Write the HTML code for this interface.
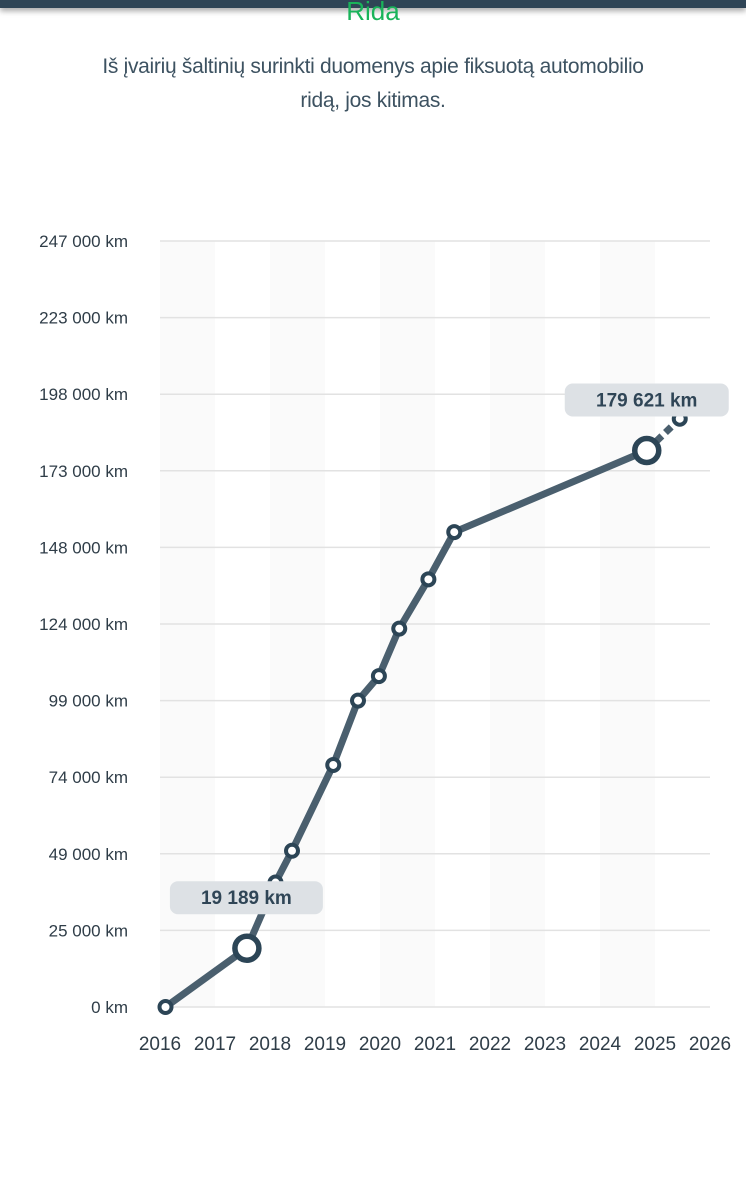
<!DOCTYPE html>
<html><head><meta charset="utf-8">
<style>
body{margin:0;width:746px;height:1200px;background:#fff;overflow:hidden;font-family:"Liberation Sans",sans-serif;position:relative}
#topbar{position:absolute;left:0;top:0;width:746px;height:8px;background:#2f4556;box-shadow:0 3px 6px rgba(0,0,0,.35)}
#title{position:absolute;top:-4px;width:746px;text-align:center;color:#19b35a;font-size:26px}
#sub{position:absolute;top:50px;left:20px;width:706px;text-align:center;color:#3d5261;font-size:21px;line-height:34px;letter-spacing:-0.3px}
svg{position:absolute;left:0;top:0}
</style></head><body>
<div id="topbar"></div>
<div id="title">Rida</div>
<div id="sub">Iš įvairių šaltinių surinkti duomenys apie fiksuotą automobilio<br>ridą, jos kitimas.</div>
<svg id="chart" width="746" height="1200"></svg>
<script>
const yTicks=[0,25000,49000,74000,99000,124000,148000,173000,198000,223000,247000];
const yLabels=["0 km","25 000 km","49 000 km","74 000 km","99 000 km","124 000 km","148 000 km","173 000 km","198 000 km","223 000 km","247 000 km"];
const xYears=[2016,2017,2018,2019,2020,2021,2022,2023,2024,2025,2026];
const dates=[2016.1,2017.58,2018.1,2018.4,2019.15,2019.6,2019.98,2020.35,2020.88,2021.35,2024.85,2025.45];
const km=[0,19189,40000,50000,78000,99000,107000,122500,138000,153000,179621,190000];
const highlighted=[1,10];
const labels={1:"19 189 km",10:"179 621 km"};
const NS="http://www.w3.org/2000/svg",svg=document.getElementById('chart');
const x=v=>160+(v-2016)*55;
const y=i=>{const n=yTicks.length-1;return 1007-i*(766/n);};
const yv=v=>{for(let i=0;i<yTicks.length-1;i++){if(v<=yTicks[i+1]){return y(i)+(y(i+1)-y(i))*(v-yTicks[i])/(yTicks[i+1]-yTicks[i]);}}return y(yTicks.length-1);};
function mk(t,a){const e=document.createElementNS(NS,t);for(const k in a)e.setAttribute(k,a[k]);svg.appendChild(e);return e;}
for(let i=0;i<xYears.length-1;i+=2){const e=mk('rect',{x:x(xYears[i]),y:241,width:55,height:766,fill:'#fafafa'});

}
yTicks.forEach((t,i)=>{const l=mk('line',{x1:160,x2:710,y1:y(i),y2:y(i),stroke:'#e2e2e2','stroke-width':1.5});


const tx=mk('text',{x:128,y:y(i)+6,'text-anchor':'end','font-size':17,fill:'#2f3d48'});tx.textContent=yLabels[i];

});
xYears.forEach(yr=>{const tx=mk('text',{x:x(yr),y:1050,'text-anchor':'middle','font-size':19,fill:'#2f3d48'});tx.textContent=yr;

});
const n=dates.length;
let d='';for(let i=0;i<n-1;i++)d+=(i?'L':'M')+x(dates[i])+','+yv(km[i]);
const p=mk('path',{d:d,fill:'none',stroke:'#4a5f6e','stroke-width':7,'stroke-linejoin':'round'});


const dl=mk('line',{x1:x(dates[n-2]),y1:yv(km[n-2]),x2:x(dates[n-1]),y2:yv(km[n-1]),stroke:'#4a5f6e','stroke-width':7,'stroke-dasharray':'8 5'});


for(let i=0;i<n;i++){const big=highlighted.includes(i);
const c=mk('circle',{cx:x(dates[i]),cy:yv(km[i]),r:big?12:6,fill:'#fff',stroke:'#2c4556','stroke-width':big?5.5:4});

}
highlighted.forEach(i=>{const cx=x(dates[i]),cy=yv(km[i]);const w=i===1?153:164;const bx=i===1?cx-77:cx-82;const by=cy-67;
const r=mk('rect',{x:bx,y:by,width:w,height:33,rx:8,fill:'#dde1e5'});


const t=mk('text',{x:bx+w/2,y:by+23,'text-anchor':'middle','font-size':19,'font-weight':'bold',fill:'#2f4556'});t.textContent=labels[i];

});
</script>
</body></html>
